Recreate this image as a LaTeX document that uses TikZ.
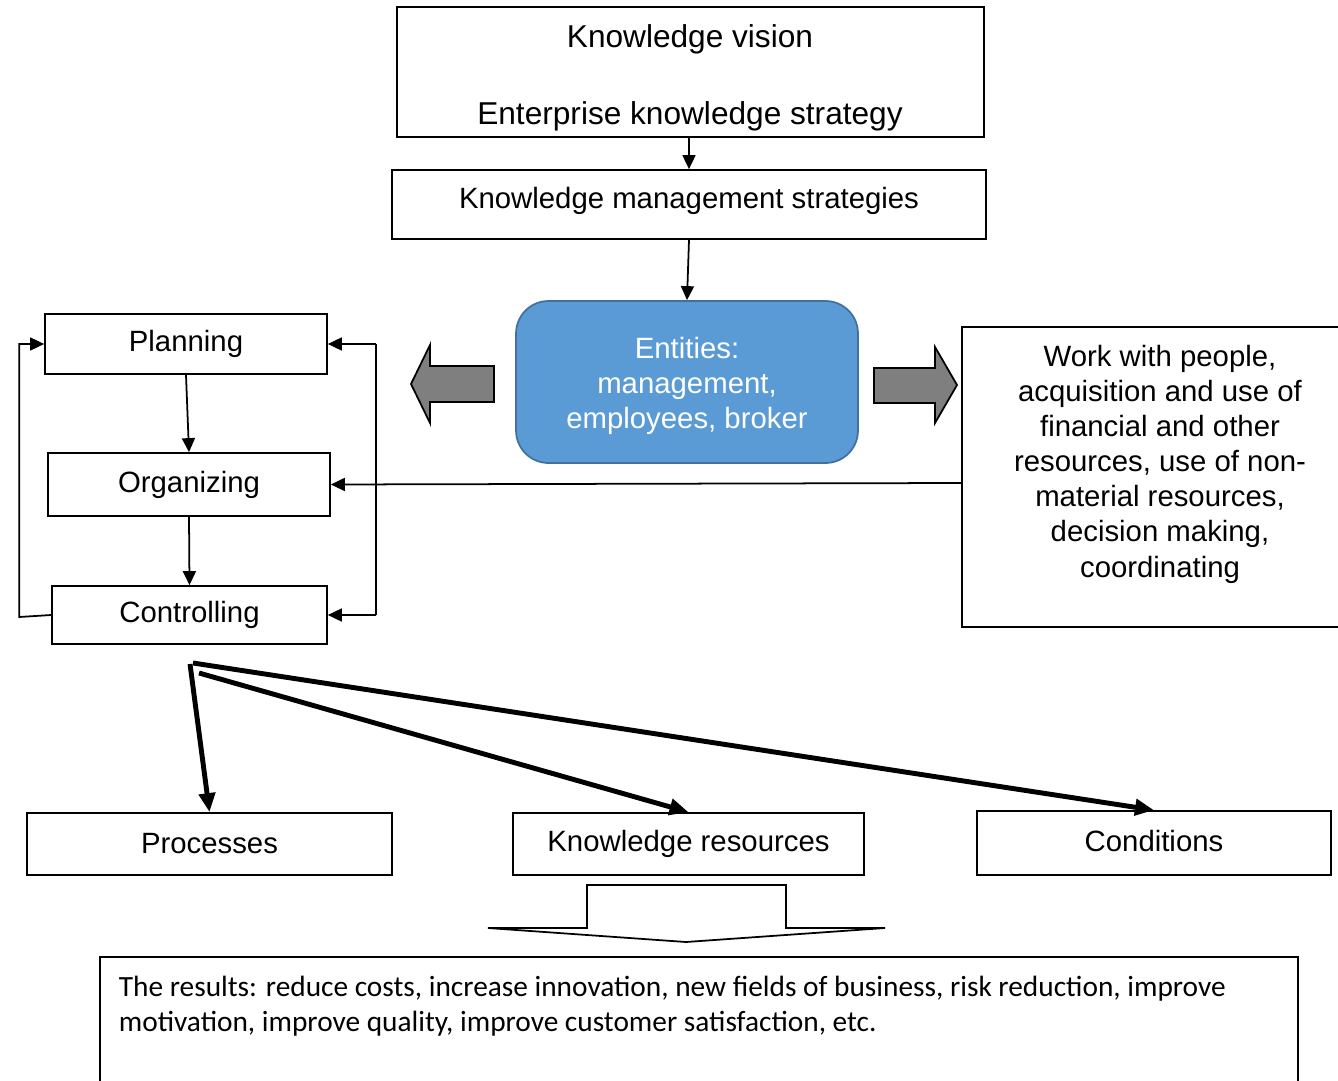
\documentclass[tikz,border=0pt]{standalone}
\usepackage{fontspec}
\setmainfont{Liberation Sans}
\newfontfamily\calibrifont{Carlito}
\usetikzlibrary{arrows.meta}
\definecolor{entblue}{HTML}{5B9BD5}
\definecolor{entline}{HTML}{41719C}
\definecolor{arrgray}{HTML}{7F7F7F}
\tikzset{
	box/.style={draw,line width=1pt,inner sep=0pt,font=\fontsize{16.7}{20}\selectfont},
	txt/.style={inner sep=0pt,align=center,font=\fontsize{16.7}{20}\selectfont},
	tip/.style={-{Triangle[length=0.28cm,width=0.26cm]}},
	fan/.style={line width=2.8pt,-{Triangle[length=0.38cm,width=0.32cm]}},
	blockarrow/.style={draw,line width=1pt,fill=arrgray,line join=miter}
}
\begin{document}
\begin{tikzpicture}[x=0.02cm,y=-0.02cm,line width=1pt]
	\useasboundingbox (0,0) rectangle (1338,1081);
	
	%top boxes
	\node[box,minimum width=11.74cm,minimum height=2.6cm] (vision) at (690.5,72) {};
	\node[txt,font=\fontsize{18}{21}\selectfont] (visiontop) at (690,39) {Knowledge vision};
	\node[txt,font=\fontsize{18}{21}\selectfont] (visionbot) at (690,116) {Enterprise knowledge strategy};
	\node[box,minimum width=11.88cm,minimum height=1.38cm] (kms) at (689,204.5) {};
	\node[txt] (kmstext) at (689,201) {Knowledge management strategies};
	\node[box,draw=entline,fill=entblue,rounded corners=0.65cm,minimum width=6.84cm,minimum height=3.24cm] (ent) at (687,382) {};
	\node[txt,text=white] (enttext) at (687,386) {Entities:\\management,\\employees, broker};
	\draw[tip] (vision.south -| kms.north) -- (kms.north);
	\draw[tip] (kms.south) -- (ent.north);
	
	%work box
	\node[box,minimum width=7.6cm,minimum height=6cm] (work) at (1152,477) {};
	\node[txt] (worktext) at (1160,464) {Work with people,\\acquisition and use of\\financial and other\\resources, use of non-\\material resources,\\decision making,\\coordinating};
	
	%block arrows
	\draw[blockarrow] (494,366) -- (430,366) -- (430,345) -- (411,384) -- (430,423) -- (430,402) -- (494,402) -- cycle; %left
	\draw[blockarrow] (874,368) -- (935,368) -- (935,347) -- (957,385) -- (935,423) -- (935,403) -- (874,403) -- cycle; %right
	
	%management cycle
	\node[box,minimum width=5.64cm,minimum height=1.2cm] (plan) at (186,344) {Planning};
	\node[box,minimum width=5.64cm,minimum height=1.26cm] (org) at (189,484.5) {Organizing};
	\node[box,minimum width=5.5cm,minimum height=1.16cm] (ctrl) at (189.5,615) {Controlling};
	\draw[tip] (plan.south) -- (org.north);
	\draw[tip] (org.south) -- (ctrl.north);
	\draw[tip] (ctrl.west) -- ++(-32,2) |- (plan.west); %feedback
	\coordinate (rtop) at (376,344);
	\coordinate (rbot) at (376,615);
	\draw (rtop) -- (rbot);
	\draw[tip] (rtop) -- (plan.east);
	\draw[tip] (rbot) -- (ctrl.east);
	\draw[tip] ([yshift=-0.12cm]work.west) -- (org.east);
	
	%bottom boxes
	\node[box,minimum width=7.3cm,minimum height=1.24cm] (proc) at (209.5,844) {Processes};
	\node[box,minimum width=7.02cm,minimum height=1.24cm] (kres) at (688.5,844) {Knowledge resources};
	\node[box,minimum width=7.08cm,minimum height=1.28cm] (cond) at (1154,843) {};
	\node[txt] (condtext) at (1154,841) {Conditions};
	\coordinate (fanA) at (190,664);
	\coordinate (fanB) at (199,673);
	\coordinate (fanC) at (193,663);
	\draw[fan] (fanA) -- (proc.north);
	\draw[fan] (fanB) -- (kres.north);
	\draw[fan] (fanC) -- (cond.north);
	
	%results
	\draw[fill=white] (488,928) -- (587,928) -- (587,885) -- (786,885) -- (786,928) -- (885,928) -- (686,942) -- cycle; %hollow arrow
	\node[box,anchor=north west,minimum width=23.96cm,minimum height=3cm] (res) at (99,956) {};
	\node[anchor=west,align=left,inner sep=0pt,font=\calibrifont\fontsize{16.7}{20}\selectfont] (restext) at (118,1006.5) {The results: reduce costs, increase innovation, new fields of business, risk reduction, improve\\motivation, improve quality, improve customer satisfaction, etc.};
\end{tikzpicture}
\end{document}
